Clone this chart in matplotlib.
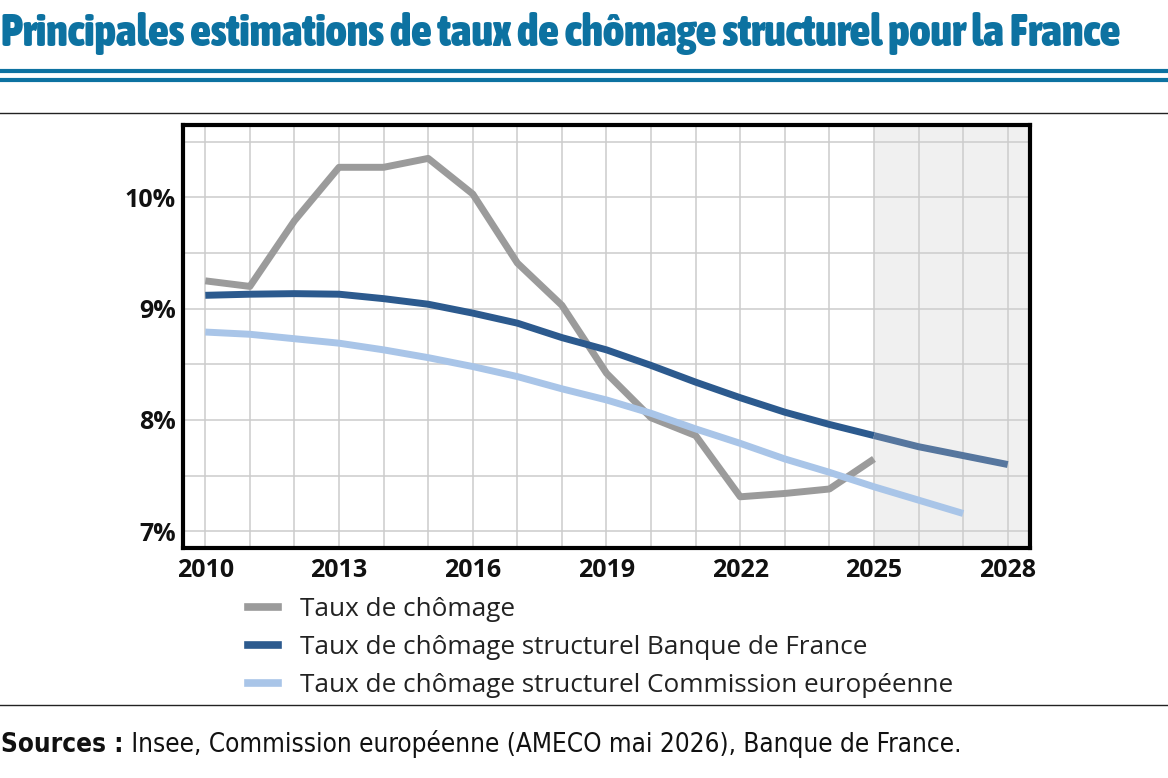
import matplotlib
matplotlib.use("Agg")
import matplotlib.pyplot as plt
from matplotlib import font_manager as fm
from matplotlib.lines import Line2D
import numpy as np

# données (en %)
years_chomage = list(range(2010, 2026))
taux_chomage = [9.25, 9.20, 9.79, 10.27, 10.27, 10.35, 10.03, 9.41, 9.03,
                8.42, 8.02, 7.86, 7.31, 7.34, 7.38, 7.65]

years_bdf = list(range(2010, 2029))
structurel_bdf = [9.12, 9.13, 9.135, 9.13, 9.09, 9.04, 8.96, 8.87, 8.74,
                  8.63, 8.49, 8.34, 8.20, 8.07, 7.96, 7.86, 7.76, 7.68, 7.60]

years_ce = list(range(2010, 2028))
structurel_ce = [8.79, 8.77, 8.73, 8.69, 8.63, 8.56, 8.48, 8.39, 8.28,
                 8.18, 8.06, 7.92, 7.79, 7.65, 7.53, 7.40, 7.28, 7.16]

xtick_years = list(range(2010, 2029, 3))
ytick_values = [7, 8, 9, 10]
forecast_start = 2025

labels = ["Taux de chômage",
          "Taux de chômage structurel Banque de France",
          "Taux de chômage structurel Commission européenne"]

TEAL = "#0d72a1"
GREY = "#9b9b9b"
DARK = "#2c5a8e"
DARK_FC = "#56769e"
LIGHT = "#a9c5e8"

W, H = 1168, 778


def _weight(f):
    w = f.weight
    if isinstance(w, str):
        w = fm.weight_dict.get(w, 400)
    return w


def narrow_font(target):
    # police étroite la plus proche du poids voulu, sinon Roboto
    cands = [f for f in fm.fontManager.ttflist
             if "Condensed" in f.name or "Narrow" in f.name
             or f.stretch in ("condensed", "semi-condensed", "extra-condensed")]
    cands = [f for f in cands if "italic" not in f.style and "oblique" not in f.style]
    if cands:
        best = min(cands, key=lambda f: (abs(_weight(f) - target), -_weight(f)))
        return fm.FontProperties(fname=best.fname)
    return fm.FontProperties(family="Roboto", weight="bold" if target >= 600 else "normal")


def fit_width(fig, txt, right_px):
    fig.canvas.draw()
    bb = txt.get_window_extent()
    size = txt.get_fontsize() * (right_px - bb.x0) / bb.width
    txt.set_fontsize(size)


plt.rcParams["font.family"] = ["Open Sans", "DejaVu Sans"]

fig = plt.figure(figsize=(W / 100, H / 100), dpi=100)
ax = fig.add_axes([183 / W, 1 - 548 / H, (1030 - 183) / W, (548 - 125) / H])

ax.axvspan(forecast_start, 2028.5, color="#f0f0f0", zorder=0, lw=0)

ax.plot(years_chomage, taux_chomage, color=GREY, lw=5, solid_capstyle="butt", zorder=3)
bdf_years = np.array(years_bdf)
bdf_vals = np.array(structurel_bdf)
hist = bdf_years <= forecast_start
fc = bdf_years >= forecast_start
ax.plot(bdf_years[hist], bdf_vals[hist], color=DARK, lw=5, solid_capstyle="butt", zorder=4)
ax.plot(bdf_years[fc], bdf_vals[fc], color=DARK_FC, lw=5, solid_capstyle="butt", zorder=4)
ax.plot(years_ce, structurel_ce, color=LIGHT, lw=5, solid_capstyle="butt", zorder=3)

ax.set_xlim(2009.5, 2028.5)
ax.set_ylim(6.85, 10.65)
ax.set_xticks(range(2010, 2029), minor=True)
ax.set_xticks(xtick_years)
ax.set_xticklabels([str(y) for y in xtick_years])
ax.set_yticks(np.arange(7, 10.6, 0.5), minor=True)
ax.set_yticks(ytick_values)
ax.set_yticklabels([f"{v}%" for v in ytick_values])
ax.tick_params(which="both", length=0)
ax.tick_params(axis="x", pad=7)
ax.tick_params(axis="y", pad=5)
for lab in ax.get_xticklabels() + ax.get_yticklabels():
    lab.set_fontweight("bold")
    lab.set_fontsize(18)
    lab.set_color("#111111")
ax.set_axisbelow(True)
ax.grid(which="both", color="#cccccc", lw=1.1)
for sp in ax.spines.values():
    sp.set_linewidth(3)
    sp.set_color("black")

# titre et filets
title = fig.text(1 / W, 1 - 46 / H,
                 "Principales estimations de taux de chômage structurel pour la France",
                 fontproperties=narrow_font(900), fontsize=28, color=TEAL,
                 va="baseline", ha="left")
fig.add_artist(Line2D([0, 1], [1 - 71.3 / H] * 2, color=TEAL, lw=3, transform=fig.transFigure))
fig.add_artist(Line2D([0, 1], [1 - 79.7 / H] * 2, color=TEAL, lw=3, transform=fig.transFigure))
fig.add_artist(Line2D([0, 1], [1 - 113 / H] * 2, color="#222222", lw=1, transform=fig.transFigure))
fig.add_artist(Line2D([0, 1], [1 - 705 / H] * 2, color="#222222", lw=1, transform=fig.transFigure))

# légende
handles = [Line2D([], [], color=GREY, lw=5.5),
           Line2D([], [], color=DARK, lw=5.5),
           Line2D([], [], color=LIGHT, lw=5.5)]
fig.legend(handles, labels, loc="upper left", bbox_to_anchor=(248 / W, 1 - 597 / H),
           frameon=False, fontsize=18.8, handlelength=1.15, handletextpad=0.85,
           labelspacing=0.5, borderaxespad=0, borderpad=0, labelcolor="#222222")

# sources
src = fig.text(1 / W, 1 - 752 / H, "Sources :", fontproperties=narrow_font(700),
               fontsize=20, color="#111111", va="baseline")
src_rest = ax.annotate(" Insee, Commission européenne (AMECO mai 2026), Banque de France.",
                       xy=(1, 0), xycoords=src, va="bottom", ha="left",
                       fontproperties=narrow_font(400), fontsize=20, color="#111111",
                       annotation_clip=False)

fit_width(fig, title, 1120)
fig.canvas.draw()
total = src_rest.get_window_extent().x1 - src.get_window_extent().x0
ratio = (962 - src.get_window_extent().x0) / total
src.set_fontsize(src.get_fontsize() * ratio)
src_rest.set_fontsize(src_rest.get_fontsize() * ratio)

fig.savefig("out.png", dpi=100)
